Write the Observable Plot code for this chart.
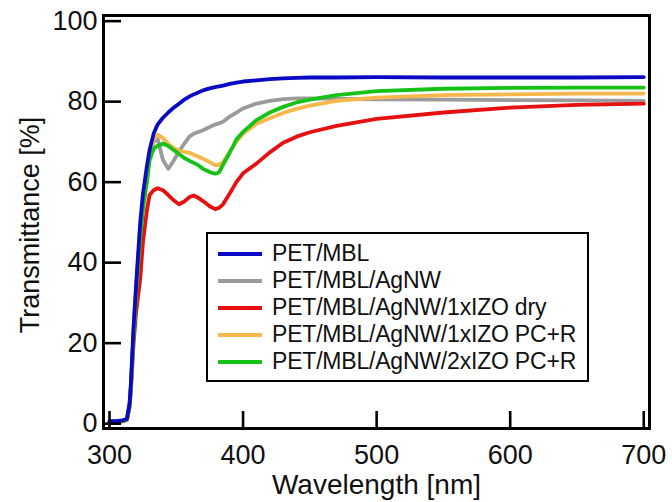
<!DOCTYPE html>
<html>
<head>
<meta charset="utf-8">
<script src="https://cdn.jsdelivr.net/npm/d3@7"></script>
<script src="https://cdn.jsdelivr.net/npm/@observablehq/plot@0.6"></script>
<style>
  html, body { margin: 0; padding: 0; background: #fff; }
  #wrap { position: relative; width: 672px; height: 502px; font-family: "Liberation Sans", Arial, sans-serif; }
  #legend { position: absolute; left: 206px; top: 232px; width: 383px; height: 150px; box-sizing: border-box;
            border: 2.5px solid #000; background: #fff; padding-top: 6px; }
  .row { display: flex; align-items: center; height: 27px; }
  .sw { width: 44px; height: 4px; margin-left: 10px; margin-right: 10px; }
  .lb { font-size: 23px; color: #111; white-space: nowrap; letter-spacing: -0.2px; }
</style>
</head>
<body>
<div id="wrap"><div id="chart"></div><div id="legend"></div></div>
<script>
const seriesNames = ["PET/MBL", "PET/MBL/AgNW", "PET/MBL/AgNW/1xIZO dry", "PET/MBL/AgNW/1xIZO PC+R", "PET/MBL/AgNW/2xIZO PC+R"];
const seriesColors = ["#0a0ac4", "#9b9b9b", "#e61010", "#f8b74a", "#16c216"];

const wavelength = [300, 305, 310, 313, 315, 316, 318, 320, 323, 325, 328, 330, 333, 336, 340, 344, 348, 352, 356, 360, 363, 366, 370, 375, 379, 382, 385, 390, 395, 400, 410, 420, 430, 440, 450, 470, 500, 550, 600, 650, 700];

const petMbl =      [0.6, 0.6, 0.8, 1.2, 5.0, 10, 24, 35, 50, 57, 64, 68, 72, 74.3, 76, 77.3, 78.5, 79.5, 80.5, 81.3, 81.8, 82.2, 82.8, 83.3, 83.6, 83.8, 84.0, 84.4, 84.7, 85.0, 85.3, 85.6, 85.8, 85.9, 86.0, 86.0, 86.1, 86.0, 86.0, 86.0, 86.1];
const agnw =        [0.5, 0.5, 0.7, 1.0, 4.5, 9, 23, 34, 48, 55, 62, 66, 70, 70.8, 65.5, 63.3, 65.3, 67.6, 69.6, 71.4, 72.0, 72.4, 72.9, 73.7, 74.3, 74.6, 75.0, 76.3, 77.3, 78.3, 79.5, 80.2, 80.6, 80.8, 80.8, 80.7, 80.6, 80.5, 80.4, 80.3, 80.2];
const izo1Dry =     [0.4, 0.4, 0.6, 0.9, 4.0, 8, 20, 28, 36, 45, 53, 56.8, 58.0, 58.5, 58.0, 56.8, 55.5, 54.5, 55.2, 56.3, 56.7, 56.2, 55.3, 54.0, 53.3, 53.6, 54.5, 57.2, 60.0, 62.2, 64.6, 67.4, 69.8, 71.3, 72.4, 74.0, 75.7, 77.3, 78.5, 79.2, 79.5];
const izo1PCR =     [0.5, 0.5, 0.7, 1.0, 4.5, 9, 23, 34, 48, 55, 62, 66, 70.5, 71.8, 71.0, 69.5, 68.5, 67.8, 67.5, 67.3, 66.8, 66.4, 65.8, 65.0, 64.2, 64.3, 65.0, 67.6, 70.0, 72.0, 74.5, 75.9, 77.2, 78.2, 79.0, 80.2, 81.0, 81.6, 81.8, 82.0, 82.0];
const izo2PCR =     [0.5, 0.5, 0.7, 1.0, 4.5, 9, 22, 33, 46, 53, 60, 65.5, 68.3, 69.0, 69.6, 69.0, 68.0, 67.0, 66.0, 65.3, 64.8, 64.3, 63.3, 62.5, 62.1, 62.4, 64.3, 67.3, 70.6, 72.5, 75.4, 77.3, 78.7, 79.8, 80.5, 81.6, 82.6, 83.2, 83.4, 83.5, 83.5];

const xTicks = [300, 400, 500, 600, 700];
const yTicks = [0, 20, 40, 60, 80, 100];
const xLabel = "Wavelength [nm]";
const yLabel = "Transmittance [%]";

const seriesValues = [petMbl, agnw, izo1Dry, izo1PCR, izo2PCR];
const drawOrder = [1, 2, 3, 4, 0];

const W = 672, H = 502;
const mL = 103, mR = 23, mT = 15, mB = 74;
const innerW = W - mL - mR, innerH = H - mT - mB;

const lineMarks = drawOrder.map(i => {
  const rows = wavelength.map((w, j) => ({w, t: seriesValues[i][j]}));
  return Plot.line(rows, {x: "w", y: "t", stroke: seriesColors[i], strokeWidth: 3.8, strokeLinejoin: "round", strokeLinecap: "round", clip: true});
});

const chart = Plot.plot({
  width: W, height: H,
  marginLeft: mL, marginRight: mR, marginTop: mT, marginBottom: mB,
  style: {fontFamily: "'Liberation Sans', Arial, sans-serif", color: "#111", background: "#fff"},
  x: {domain: [295.5, 704.3]},
  y: {domain: [-1.2, 101.4]},
  marks: [
    ...lineMarks,
    Plot.tickX(xTicks, {x: d => d, stroke: "#000", strokeWidth: 2.6, insetTop: innerH - 17}),
    Plot.tickY(yTicks, {y: d => d, stroke: "#000", strokeWidth: 2.6, insetRight: innerW - 18}),
    Plot.axisX(xTicks, {tickSize: 0, tickPadding: 16, fontSize: 27, label: null}),
    Plot.axisY(yTicks, {tickSize: 0, tickPadding: 6, fontSize: 27, label: null}),
    Plot.frame({stroke: "#000", strokeWidth: 3}),
    Plot.text([xLabel], {text: d => d, frameAnchor: "bottom", dy: 57, fontSize: 28, textAnchor: "middle", lineAnchor: "middle", fill: "#111"}),
    Plot.text([yLabel], {text: d => d, frameAnchor: "left", dx: -73, dy: 3, rotate: -90, fontSize: 27, textAnchor: "middle", lineAnchor: "middle", fill: "#111"})
  ]
});
document.getElementById("chart").appendChild(chart);

const legend = document.getElementById("legend");
seriesNames.forEach((name, i) => {
  const row = document.createElement("div");
  row.className = "row";
  const sw = document.createElement("div");
  sw.className = "sw";
  sw.style.background = seriesColors[i];
  const lb = document.createElement("div");
  lb.className = "lb";
  lb.textContent = name;
  row.appendChild(sw); row.appendChild(lb);
  legend.appendChild(row);
});
</script>
</body>
</html>
